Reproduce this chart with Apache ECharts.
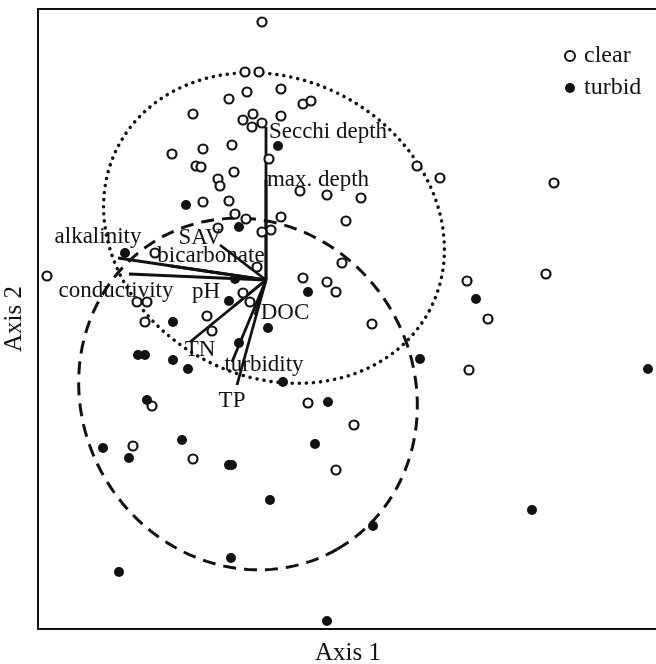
<!DOCTYPE html>
<html>
<head>
<meta charset="utf-8">
<script src="https://cdn.jsdelivr.net/npm/echarts@6/dist/echarts.min.js"></script>
<style>
html,body{margin:0;padding:0;background:#fff;}
#chart{width:656px;height:664px;}
</style>
</head>
<body>
<div id="chart"></div>
<script>
// ---- data (ordination scores, Axis 1 / Axis 2) ----
const clearX = [-0.04,-0.21,-0.07,-0.19,0.15,-0.37,0.37,0.45,-0.73,-0.23,-0.13,-0.14,-0.04,0.15,0.03,-0.94,-0.63,-0.34,-0.70,-0.65,-0.48,-0.46,-0.32,1.51,1.74,2.88,0.34,0.61,0.95,-0.63,-0.37,-0.31,-0.20,0.15,0.80,-0.48,-0.04,0.05,-1.11,-0.09,0.37,0.61,0.70,0.76,-2.19,-0.23,-0.16,-1.29,-1.19,-1.21,-0.59,-0.54,1.06,2.01,2.22,2.80,2.03,0.42,0.88,0.70,-1.33,-0.73,-1.14];
const clearY = [2.58,2.08,2.08,1.88,1.91,1.81,1.76,1.79,1.66,1.60,1.66,1.53,1.57,1.64,1.21,1.26,1.31,1.35,1.14,1.13,1.01,0.94,1.08,1.14,1.02,0.97,0.89,0.85,0.82,0.78,0.79,0.66,0.61,0.63,0.59,0.52,0.48,0.50,0.27,0.13,0.02,-0.02,-0.12,0.17,0.04,-0.13,-0.22,-0.22,-0.22,-0.42,-0.36,-0.51,-0.44,-0.01,-0.39,0.06,-0.90,-1.23,-1.45,-1.90,-1.66,-1.79,-1.26];
const turbidX = [0.12,-0.80,-0.27,-1.41,-0.31,-0.37,0.42,0.02,-0.93,-1.28,-1.21,-0.93,-0.78,-0.27,0.17,0.62,1.54,2.10,3.82,-1.19,-1.63,-1.37,-0.84,-0.37,-0.34,-0.35,-1.47,0.04,0.49,1.07,0.61,2.66];
const turbidY = [1.34,0.75,0.53,0.27,0.01,-0.21,-0.12,-0.48,-0.42,-0.75,-0.75,-0.80,-0.89,-0.63,-1.02,-1.22,-0.79,-0.19,-0.89,-1.20,-1.68,-1.78,-1.60,-1.85,-1.85,-2.78,-2.92,-2.20,-1.64,-2.46,-3.41,-2.30];

// environmental vectors (biplot)
const vectorNames = ["Secchi depth","max. depth","alkalinity","conductivity","bicarbonate","SAV","pH","TN","turbidity","TP","DOC"];
const vectorX = [0, 0, -1.48, -1.37, -0.95, -0.46, -0.32, -0.76, -0.34, -0.29, -0.11];
const vectorY = [1.53, 1.00, 0.22, 0.06, 0.14, 0.35, -0.26, -0.62, -0.82, -1.05, -0.35];

// group ellipses: [centerX, centerY, semiAxisA, semiAxisB, angleDeg]
const clearEllipse = [0.08, 0.52, 1.76, 1.49, -28];
const turbidEllipse = [-0.18, -1.14, 1.79, 1.66, -60];

const axisTitles = ["Axis 1", "Axis 2"];
const legendNames = ["clear", "turbid"];

// ---- styling (pixel offsets of vector labels) ----
const labelOffsets = {
  "Secchi depth":[62,5], "max. depth":[52,0], "alkalinity":[-20,-21], "conductivity":[-13,17],
  "bicarbonate":[40,-10], "SAV":[-20,-7], "pH":[-28,-14], "TN":[10,8],
  "turbidity":[32,3], "TP":[-5,16], "DOC":[30,-2]
};
const FONT = "'Liberation Serif','Times New Roman',serif";
const INK = '#111111';

function ellipsePts(p){
  const [cx,cy,a,b,ang] = p, r = ang*Math.PI/180, pts=[];
  for(let i=0;i<=360;i+=2){
    const t=i*Math.PI/180;
    pts.push([cx + a*Math.cos(t)*Math.cos(r) - b*Math.sin(t)*Math.sin(r),
              cy + a*Math.cos(t)*Math.sin(r) + b*Math.sin(t)*Math.cos(r)]);
  }
  return pts;
}

const chart = echarts.init(document.getElementById('chart'), null, {renderer:'canvas'});
const series = [];
series.push({type:'line', data: ellipsePts(clearEllipse), symbol:'none', silent:true, z:1,
  lineStyle:{color:INK, width:3.5, type:[0.1,7], cap:'round'}});
series.push({type:'line', data: ellipsePts(turbidEllipse), symbol:'none', silent:true, z:1,
  lineStyle:{color:INK, width:3, type:[13,8]}});
vectorNames.forEach((n,i)=>{
  series.push({type:'line', data:[[0,0],[vectorX[i],vectorY[i]]], symbol:'none', silent:true, z:2,
    lineStyle:{color:INK, width:2.8}});
});
series.push({name:'clear', type:'scatter', z:4, symbol:'circle', symbolSize:9,
  itemStyle:{color:'#fff', borderColor:INK, borderWidth:2.2, opacity:1},
  data: clearX.map((x,i)=>[x, clearY[i]])});
series.push({name:'turbid', type:'scatter', z:4, symbol:'circle', symbolSize:10,
  itemStyle:{color:INK, opacity:1},
  data: turbidX.map((x,i)=>[x, turbidY[i]])});
series.push({type:'scatter', z:5, symbolSize:0, silent:true,
  itemStyle:{color:INK},
  data: vectorNames.map((n,i)=>({value:[vectorX[i],vectorY[i]],
    label:{show:true, formatter:n, position:[0,0], offset:labelOffsets[n],
      color:INK, opacity:1, fontFamily:FONT, fontSize:23, align:'center', verticalAlign:'middle'}}))});

chart.setOption({
  animation:false,
  backgroundColor:'#fff',
  grid:{left:38, top:9, right:-2, bottom:35, outerBoundsMode:'none', containLabel:false, show:true, borderColor:INK, borderWidth:2, backgroundColor:'transparent'},
  xAxis:{type:'value', min:-2.28, max:3.92, axisLabel:{show:false}, axisTick:{show:false}, splitLine:{show:false}, axisLine:{show:false},
    name:axisTitles[0], nameLocation:'middle', nameGap:12, nameTextStyle:{color:INK, fontFamily:FONT, fontSize:25}},
  yAxis:{type:'value', min:-3.49, max:2.71, axisLabel:{show:false}, axisTick:{show:false}, splitLine:{show:false}, axisLine:{show:false},
    name:axisTitles[1], nameLocation:'middle', nameRotate:90, nameGap:11, nameTextStyle:{color:INK, fontFamily:FONT, fontSize:25}},
  legend:{orient:'vertical', left:559, top:39, itemWidth:10, itemHeight:10, itemGap:8,
    textStyle:{color:INK, fontFamily:FONT, fontSize:24, padding:[0,0,0,4]},
    data:[{name:legendNames[0], icon:'circle', itemStyle:{color:'#fff', borderColor:INK, borderWidth:2}},
          {name:legendNames[1], icon:'circle', itemStyle:{color:INK}}]},
  series: series
});
</script>
</body>
</html>
